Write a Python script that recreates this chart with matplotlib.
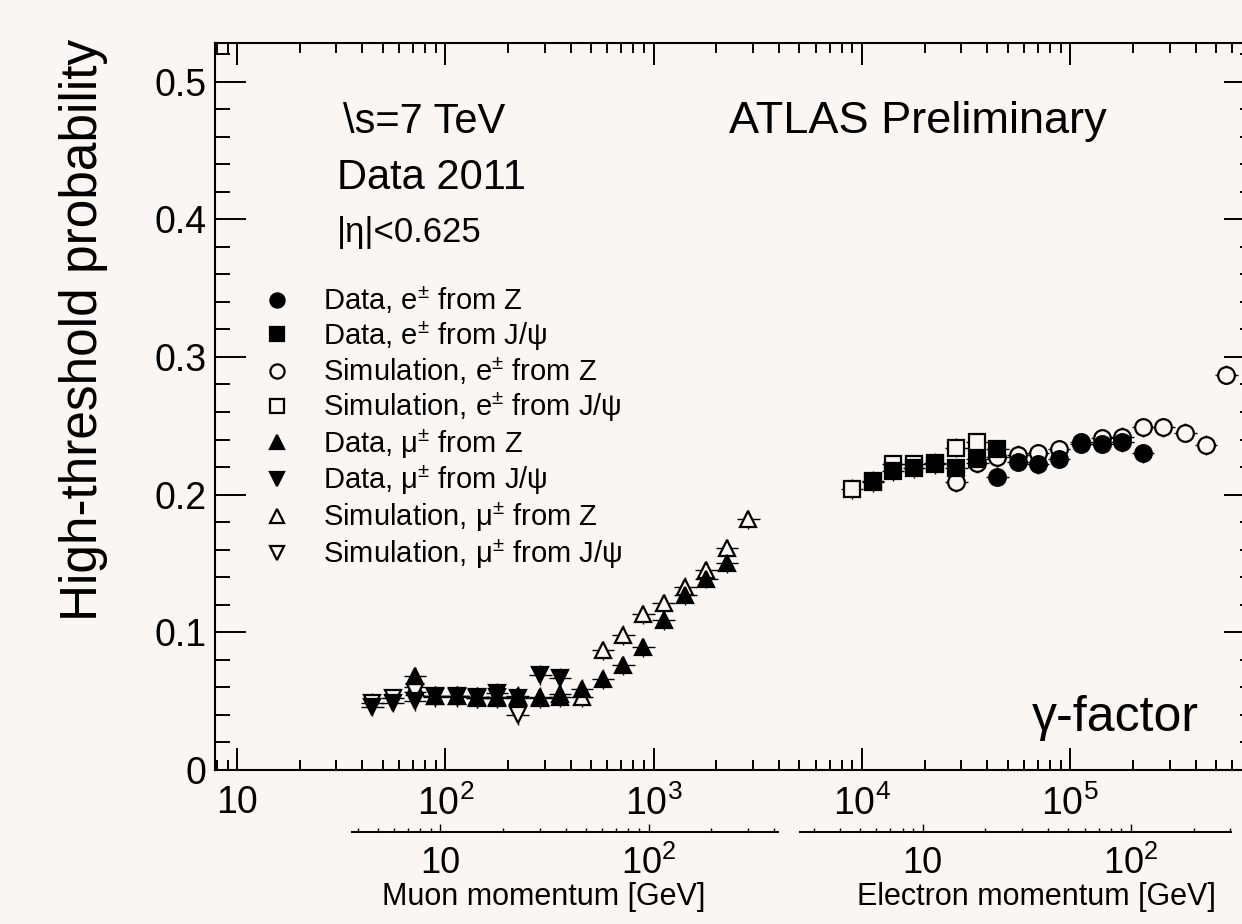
import numpy as np
import matplotlib.pyplot as plt
from matplotlib.ticker import LogLocator, FuncFormatter, MultipleLocator, NullFormatter

plt.rcParams['font.family'] = 'Liberation Sans'
plt.rcParams['mathtext.fontset'] = 'custom'
plt.rcParams['mathtext.rm'] = 'Liberation Sans'
plt.rcParams['mathtext.it'] = 'Liberation Sans:italic'
plt.rcParams['mathtext.bf'] = 'Liberation Sans:bold'

BG = '#faf6f3'

# gamma factor (x) and high-threshold probability (y) per sample
data_e_z_g = [44560, 56150, 70000, 88300, 112700, 142200, 177400, 223500]
data_e_z_p = [0.213, 0.224, 0.222, 0.226, 0.237, 0.237, 0.238, 0.230]

data_e_jpsi_g = [11300, 14090, 17780, 22430, 28300, 35700, 44560]
data_e_jpsi_p = [0.209, 0.217, 0.219, 0.222, 0.219, 0.226, 0.233]

sim_e_z_g = [28300, 35700, 44560, 56150, 70000, 88300, 112700, 142200,
             177400, 223500, 279000, 355900, 448600, 559800]
sim_e_z_p = [0.209, 0.223, 0.227, 0.229, 0.230, 0.233, 0.238, 0.241,
             0.242, 0.249, 0.249, 0.245, 0.236, 0.287]

sim_e_jpsi_g = [8954, 11300, 14090, 17780, 22430, 28300, 35700]
sim_e_jpsi_p = [0.204, 0.210, 0.222, 0.222, 0.223, 0.234, 0.238]

data_mu_z_g = [71.5, 89, 114, 142, 177, 223, 285, 355, 453, 571, 713, 890,
               1120, 1415, 1785, 2250]
data_mu_z_p = [0.068, 0.054, 0.054, 0.053, 0.052, 0.053, 0.052, 0.053, 0.059,
               0.066, 0.076, 0.089, 0.109, 0.127, 0.139, 0.150]

data_mu_jpsi_g = [44.5, 56, 71.5, 89, 114, 142, 177, 223, 285, 355]
data_mu_jpsi_p = [0.046, 0.049, 0.050, 0.053, 0.053, 0.053, 0.056, 0.052,
                  0.069, 0.067]

sim_mu_z_g = [71.5, 89, 114, 142, 177, 223, 285, 355, 453, 571, 713, 890,
              1120, 1415, 1785, 2250, 2840]
sim_mu_z_p = [0.060, 0.054, 0.054, 0.052, 0.053, 0.054, 0.053, 0.055, 0.053,
              0.087, 0.098, 0.113, 0.121, 0.133, 0.145, 0.161, 0.182]

sim_mu_jpsi_g = [44.5, 56, 71.5, 89, 114, 142, 177, 223]
sim_mu_jpsi_p = [0.049, 0.052, 0.057, 0.054, 0.054, 0.052, 0.053, 0.040]

labels = ['Data, e$^{\\pm}$ from Z', 'Data, e$^{\\pm}$ from J/\u03c8',
          'Simulation, e$^{\\pm}$ from Z', 'Simulation, e$^{\\pm}$ from J/\u03c8',
          'Data, \u03bc$^{\\pm}$ from Z', 'Data, \u03bc$^{\\pm}$ from J/\u03c8',
          'Simulation, \u03bc$^{\\pm}$ from Z', 'Simulation, \u03bc$^{\\pm}$ from J/\u03c8']

M_MU = 0.10566
M_E = 0.000511
GAMMA_LIM = (10**0.894, 10**5.887)

W, H = 1242, 924
fig = plt.figure(figsize=(W / 100, H / 100), dpi=100, facecolor=BG)
ax_l, ax_r = 215, 1255
ax = fig.add_axes([ax_l / W, (H - 770) / H, (ax_r - ax_l) / W, (770 - 43) / H])
ax.set_facecolor(BG)

series = [
    (data_e_z_g, data_e_z_p, 'o', True),
    (data_e_jpsi_g, data_e_jpsi_p, 's', True),
    (sim_e_z_g, sim_e_z_p, 'o', False),
    (sim_e_jpsi_g, sim_e_jpsi_p, 's', False),
    (data_mu_z_g, data_mu_z_p, '^', True),
    (data_mu_jpsi_g, data_mu_jpsi_p, 'v', True),
    (sim_mu_z_g, sim_mu_z_p, '^', False),
    (sim_mu_jpsi_g, sim_mu_jpsi_p, 'v', False),
]

half = 10**0.055
for (g, p, m, filled), lab in zip(series, labels):
    g = np.array(g)
    p = np.array(p)
    ax.errorbar(g, p, xerr=[g - g / half, g * half - g], yerr=0.007,
                fmt='none', ecolor='black', elinewidth=1.0, capsize=0, zorder=2)
    ax.plot(g, p, ls='none', marker=m, ms=12, mew=1.6, mec='black',
            mfc='black' if filled else BG, label=lab,
            zorder=4 if filled else 3)

ax.set_xscale('log')
ax.set_xlim(*GAMMA_LIM)
ax.set_ylim(0, 0.528)


def pow_fmt(v, pos):
    e = int(round(np.log10(v)))
    if e == 1:
        return '10'
    return r'$\mathregular{10^{%d}}$' % e


ax.xaxis.set_major_locator(LogLocator(base=10))
ax.xaxis.set_minor_locator(LogLocator(base=10, subs=np.arange(2, 10)))
ax.xaxis.set_major_formatter(FuncFormatter(pow_fmt))
ax.xaxis.set_minor_formatter(NullFormatter())
ax.yaxis.set_major_locator(MultipleLocator(0.1))
ax.yaxis.set_minor_locator(MultipleLocator(0.02))
ax.yaxis.set_major_formatter(FuncFormatter(lambda v, p: '0' if abs(v) < 1e-9 else '%.1f' % v))

ax.tick_params(which='both', direction='in', top=True, right=True, width=1.4,
               colors='black')
ax.tick_params(axis='x', which='major', length=16, pad=11, labelsize=27)
ax.tick_params(axis='x', which='minor', length=7.5)
ax.tick_params(axis='y', which='major', length=22, pad=6, labelsize=27)
ax.tick_params(axis='y', which='minor', length=11)
for s in ax.spines.values():
    s.set_linewidth(1.5)


def momentum_axis(x0, x1, mass, label, label_x):
    lo, hi = np.log10(GAMMA_LIM[0]), np.log10(GAMMA_LIM[1])
    g0 = 10**(lo + (x0 - ax_l) / (ax_r - ax_l) * (hi - lo))
    g1 = 10**(lo + (x1 - ax_l) / (ax_r - ax_l) * (hi - lo))
    a = fig.add_axes([x0 / W, (H - 832) / H, (x1 - x0) / W, 0.0005])
    a.patch.set_visible(False)
    a.set_xscale('log')
    a.set_xlim(g0 * mass, g1 * mass)
    for k in ('top', 'left', 'right'):
        a.spines[k].set_visible(False)
    a.spines['bottom'].set_linewidth(1.4)
    a.yaxis.set_visible(False)
    a.xaxis.set_major_locator(LogLocator(base=10))
    a.xaxis.set_minor_locator(LogLocator(base=10, subs=np.arange(2, 10)))
    a.xaxis.set_major_formatter(FuncFormatter(pow_fmt))
    a.xaxis.set_minor_formatter(NullFormatter())
    a.tick_params(which='both', direction='in', width=1.0)
    a.tick_params(which='major', length=6, pad=10, labelsize=26)
    a.tick_params(which='minor', length=3)
    fig.text(label_x / W, (H - 905) / H, label, fontsize=22, ha='left',
             va='baseline')


momentum_axis(352, 778, M_MU, 'Muon momentum [GeV]', 382)
momentum_axis(800, 1231, M_E, 'Electron momentum [GeV]', 857)

fig.text(84 / W, (H - 330) / H, 'High-threshold probability', rotation=90,
         fontsize=37, ha='center', va='center')
fig.text(343 / W, (H - 133) / H, '\\s=7 TeV', fontsize=30, va='baseline')
fig.text(337 / W, (H - 189) / H, 'Data 2011', fontsize=30, va='baseline')
fig.text(337 / W, (H - 242) / H, '|\u03b7|<0.625', fontsize=25, va='baseline')
fig.text(729 / W, (H - 133) / H, 'ATLAS Preliminary', fontsize=32.5, va='baseline')
fig.text(1032 / W, (H - 731) / H, '\u03b3-factor', fontsize=36, va='baseline')

ax.legend(loc='upper left', bbox_to_anchor=(263 / W, (H - 284) / H),
          bbox_transform=fig.transFigure, frameon=False, fontsize=21,
          markerscale=0.85, handlelength=0.95, handletextpad=1.1,
          labelspacing=0.1, borderpad=0, borderaxespad=0)

fig.savefig('out.png', dpi=100, facecolor=BG)
